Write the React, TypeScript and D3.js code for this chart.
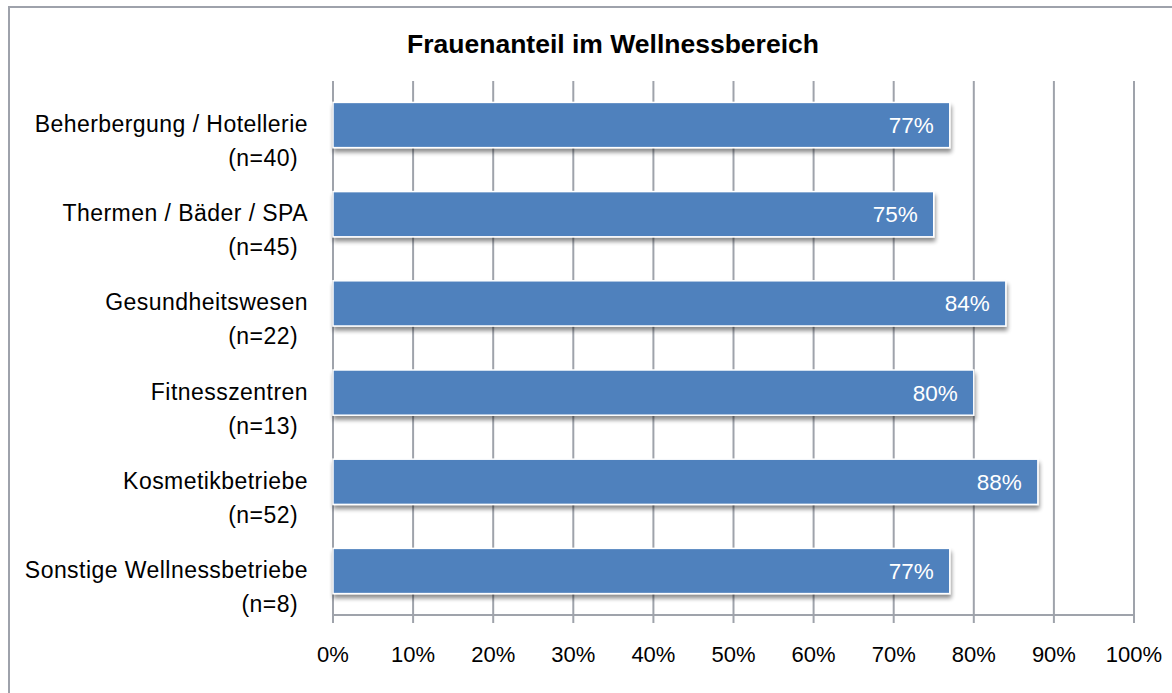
import React from "react";
import * as d3 from "d3";

const categories = [
  "Beherbergung / Hotellerie",
  "Thermen / Bäder / SPA",
  "Gesundheitswesen",
  "Fitnesszentren",
  "Kosmetikbetriebe",
  "Sonstige Wellnessbetriebe",
];
const sampleSizes = ["(n=40)", "(n=45)", "(n=22)", "(n=13)", "(n=52)", "(n=8)"];
const values = [0.77, 0.75, 0.84, 0.8, 0.88, 0.77];
const ticks = [0, 0.1, 0.2, 0.3, 0.4, 0.5, 0.6, 0.7, 0.8, 0.9, 1.0];
const title = "Frauenanteil im Wellnessbereich";

const W = 1172;
const H = 693;
const left = 333;
const right = 1134;
const top = 81;
const bottom = 615;
const font = "'Liberation Sans', Arial, sans-serif";

export default function App() {
  const x = d3.scaleLinear().domain([0, 1]).range([left, right]);
  const y = d3
    .scaleBand<number>()
    .domain(d3.range(categories.length))
    .range([top, bottom])
    .paddingInner(0.493)
    .paddingOuter(0.24);
  const fmt = d3.format(".0%");
  const gridColor = "#9fa3ab";

  return (
    <svg
      width={W}
      height={H}
      style={{ position: "absolute", left: 0, top: 0, background: "#fff" }}
    >
      <defs>
        <filter id="shadow" x="-5%" y="-30%" width="110%" height="180%">
          <feGaussianBlur in="SourceAlpha" stdDeviation="2" />
          <feOffset dx="1" dy="4" result="b" />
          <feComponentTransfer>
            <feFuncA type="linear" slope="0.45" />
          </feComponentTransfer>
          <feMerge>
            <feMergeNode />
            <feMergeNode in="SourceGraphic" />
          </feMerge>
        </filter>
      </defs>
      <rect x={0} y={0} width={W} height={H} fill="#fff" />
      <rect
        x={9}
        y={7}
        width={W + 20}
        height={H + 20}
        fill="none"
        stroke="#9ea2ab"
        strokeWidth={2}
      />
      <text
        x={613}
        y={53}
        textAnchor="middle"
        fontFamily={font}
        fontSize={26.5}
        fontWeight="bold"
        fill="#000"
      >
        {title}
      </text>
      {ticks.map((t) => (
        <line
          key={"g" + t}
          x1={x(t)}
          x2={x(t)}
          y1={top}
          y2={bottom + 8}
          stroke={gridColor}
          strokeWidth={2}
        />
      ))}
      <line x1={left} x2={right} y1={bottom} y2={bottom} stroke={gridColor} strokeWidth={2} />
      {ticks.map((t) => (
        <text
          key={"t" + t}
          x={x(t)}
          y={662}
          textAnchor="middle"
          fontFamily={font}
          fontSize={22}
          fill="#000"
        >
          {fmt(t)}
        </text>
      ))}
      {values.map((v, i) => {
        const by = y(i)!;
        const bh = y.bandwidth();
        const cy = by + bh / 2;
        return (
          <g key={"b" + i}>
            <rect
              x={x(0)}
              y={by}
              width={x(v) - x(0)}
              height={bh}
              fill="#4f81bd"
              stroke="#fff"
              strokeWidth={1.5}
              filter="url(#shadow)"
            />
            <text
              x={x(v) - 16}
              y={cy + 8}
              textAnchor="end"
              fontFamily={font}
              fontSize={22.5}
              fill="#fff"
            >
              {fmt(v)}
            </text>
            <text
              x={308}
              y={cy + 7}
              textAnchor="end"
              fontFamily={font}
              fontSize={23}
              letterSpacing={0.45}
              fill="#000"
            >
              {categories[i]}
            </text>
            <text
              x={298}
              y={cy + 41}
              textAnchor="end"
              fontFamily={font}
              fontSize={23}
              letterSpacing={0.45}
              fill="#000"
            >
              {sampleSizes[i]}
            </text>
          </g>
        );
      })}
    </svg>
  );
}
